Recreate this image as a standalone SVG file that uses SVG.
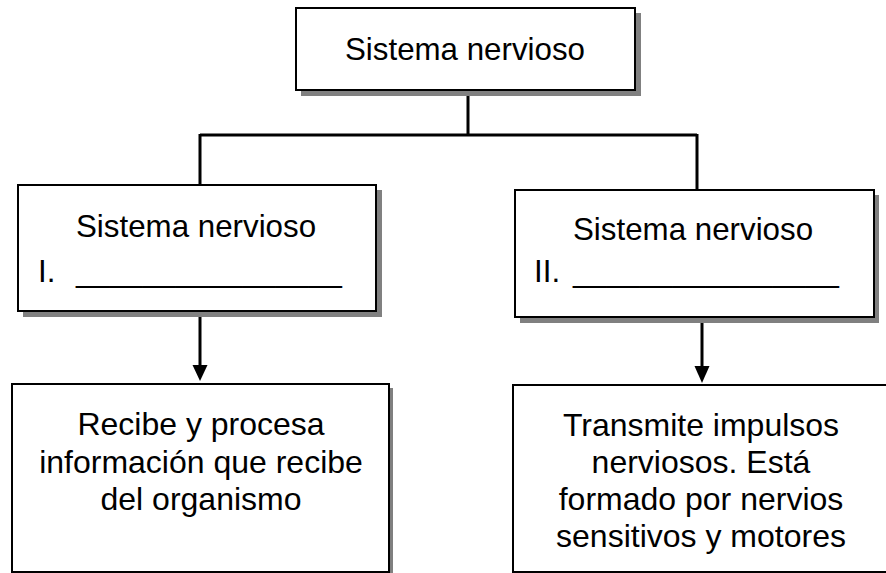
<svg xmlns="http://www.w3.org/2000/svg" width="886" height="573" viewBox="0 0 886 573">
<defs>
<style>
.box{fill:#fff;stroke:#000;stroke-width:2}
.sh{fill:#808080}
.t{font-family:"Liberation Sans",Arial,sans-serif;font-size:32px;fill:#000}
.s{font-size:31.3px}
.c{text-anchor:middle}
.ln{stroke:#000;stroke-width:3;fill:none}
</style>
</defs>
<rect width="886" height="573" fill="#fff"/>
<g id="connectors">
<path class="ln" d="M468,91 V135 M200,135 H697 M200,134 V184 M697,134 V189"/>
<line class="ln" x1="200" y1="313" x2="200" y2="366"/>
<path d="M192.5,365 L207.5,365 L200,381 Z" fill="#000"/>
<line class="ln" x1="702" y1="323" x2="702" y2="367"/>
<path d="M694.5,366 L709.5,366 L702,383 Z" fill="#000"/>
</g>
<g id="node-top">
<rect class="sh" x="301" y="13" width="340" height="83"/>
<rect class="box" x="296" y="8" width="339" height="82"/>
<text class="t s c" x="465" y="60">Sistema nervioso</text>
</g>
<g id="node-I">
<rect class="sh" x="23" y="190" width="359" height="127"/>
<rect class="box" x="18" y="185" width="358" height="126"/>
<text class="t s" x="76" y="237">Sistema nervioso</text>
<text class="t s" x="38" y="282">I.</text>
<text class="t s" x="76" y="282" textLength="266" lengthAdjust="spacingAndGlyphs">________________</text>
</g>
<g id="node-II">
<rect class="sh" x="520" y="195" width="359" height="128"/>
<rect class="box" x="515" y="190" width="359" height="127"/>
<text class="t s" x="573" y="240">Sistema nervioso</text>
<text class="t s" x="534" y="282">II.</text>
<text class="t s" x="573" y="282" textLength="266" lengthAdjust="spacingAndGlyphs">________________</text>
</g>
<g id="node-central">
<rect class="sh" x="16" y="388" width="377" height="190"/>
<rect class="box" x="12" y="384" width="377" height="188"/>
<text class="t c" x="201" y="435">Recibe y procesa</text>
<text class="t c" x="201" y="473">información que recibe</text>
<text class="t c" x="201" y="510">del organismo</text>
</g>
<g id="node-peripheral">
<rect class="sh" x="517" y="389" width="380" height="190"/>
<rect class="box" x="513" y="385" width="380" height="187"/>
<text class="t c" x="701" y="436">Transmite impulsos</text>
<text class="t c" x="701" y="473">nerviosos. Está</text>
<text class="t c" x="701" y="510">formado por nervios</text>
<text class="t c" x="701" y="547">sensitivos y motores</text>
</g>
</svg>
